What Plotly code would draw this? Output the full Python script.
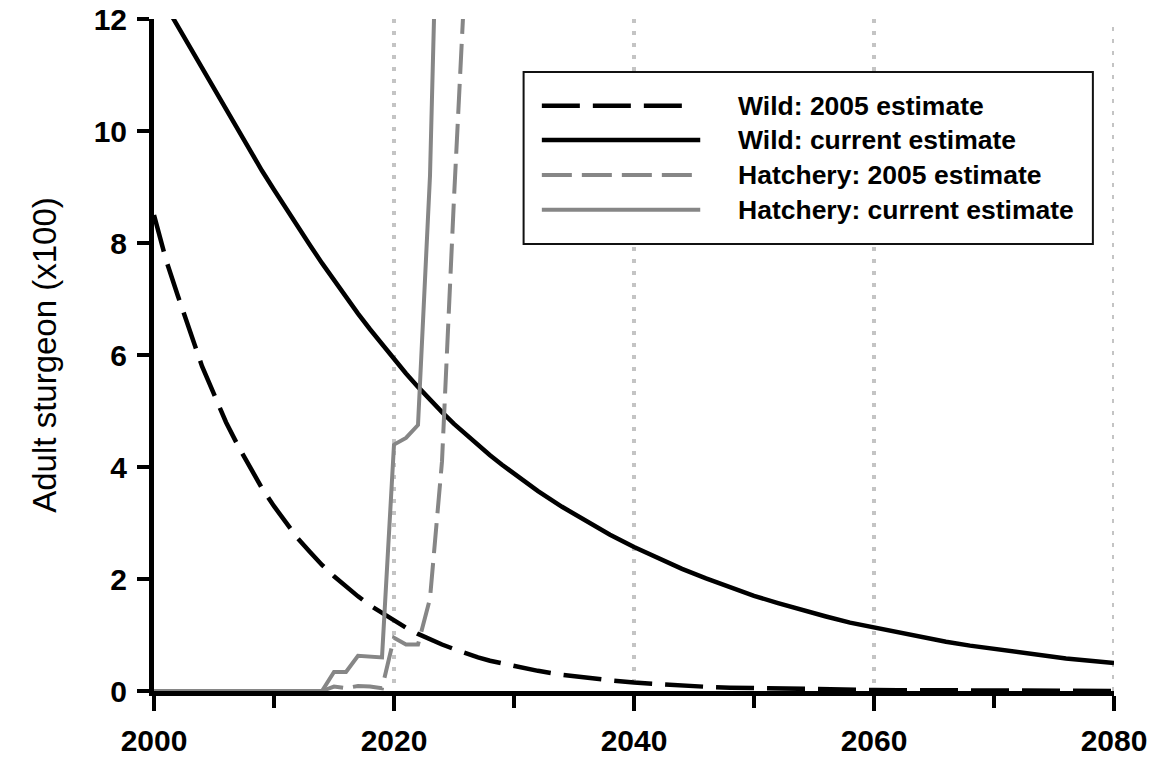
import plotly.graph_objects as go

# ---------------- data ----------------
wild_years = [2000, 2001, 2002, 2003, 2004, 2005, 2006, 2007, 2008, 2009,
              2010, 2011, 2012, 2013, 2014, 2015, 2016, 2017, 2018, 2019,
              2020, 2021, 2022, 2023, 2024, 2025, 2026, 2027, 2028, 2029,
              2030, 2032, 2034, 2036, 2038, 2040, 2042, 2044, 2046, 2048,
              2050, 2052, 2054, 2056, 2058, 2060, 2062, 2064, 2066, 2068,
              2070, 2072, 2074, 2076, 2078, 2080]

wild_2005 = [8.5, 7.7, 7.05, 6.4, 5.8, 5.3, 4.8, 4.38, 4.0, 3.62,
             3.3, 3.0, 2.72, 2.48, 2.25, 2.05, 1.86, 1.69, 1.53, 1.39,
             1.26, 1.13, 1.02, 0.92, 0.83, 0.75, 0.67, 0.6, 0.54, 0.49,
             0.44, 0.36, 0.29, 0.23, 0.19, 0.15, 0.12, 0.09, 0.075, 0.06,
             0.05, 0.04, 0.033, 0.027, 0.022, 0.018, 0.015, 0.012, 0.01, 0.008,
             0.006, 0.005, 0.004, 0.003, 0.003, 0.002]

wild_current = [12.6, 12.23, 11.85, 11.48, 11.1, 10.73, 10.36, 10.0, 9.64, 9.29,
                8.95, 8.61, 8.28, 7.96, 7.64, 7.33, 7.03, 6.74, 6.46, 6.19,
                5.93, 5.67, 5.43, 5.2, 4.98, 4.77, 4.58, 4.39, 4.21, 4.04,
                3.88, 3.57, 3.29, 3.03, 2.79, 2.57, 2.37, 2.18, 2.01, 1.85,
                1.7, 1.57, 1.44, 1.33, 1.22, 1.13, 1.04, 0.96, 0.88, 0.81,
                0.75, 0.69, 0.63, 0.58, 0.54, 0.5]

hatch_years = [2000, 2001, 2002, 2003, 2004, 2005, 2006, 2007, 2008, 2009,
               2010, 2011, 2012, 2013, 2014, 2015, 2016, 2017, 2018, 2019,
               2020, 2021, 2022, 2023, 2024, 2025, 2026]

hatch_2005 = [0, 0, 0, 0, 0, 0, 0, 0, 0, 0,
              0, 0, 0, 0, 0, 0.08, 0.05, 0.09, 0.08, 0.05,
              0.95, 0.83, 0.83, 1.65, 4.1, 8.8, 13.1]

hatch_current = [0, 0, 0, 0, 0, 0, 0, 0, 0, 0,
                 0, 0, 0, 0, 0, 0.34, 0.34, 0.63, 0.62, 0.6,
                 4.4, 4.52, 4.75, 9.2, 17.6, None, None]

series_names = ["Wild: 2005 estimate", "Wild: current estimate",
                "Hatchery: 2005 estimate", "Hatchery: current estimate"]

x_tick_vals = [2000, 2020, 2040, 2060, 2080]
y_tick_vals = [0, 2, 4, 6, 8, 10, 12]

# ---------------- styles ----------------
BLACK = "#000000"
GRAY = "#868686"
styles = [
    dict(color=BLACK, width=4.5, dash="38px,13px"),
    dict(color=BLACK, width=4.5, dash="solid"),
    dict(color=GRAY, width=4, dash="30px,10px"),
    dict(color=GRAY, width=4, dash="solid"),
]
FONT = "Liberation Sans, Arial, sans-serif"
GRID = dict(color="#c4c4c4", width=4, dash="4px,8px")

fig = go.Figure()
xs = [wild_years, wild_years, hatch_years, hatch_years]
ys = [wild_2005, wild_current, hatch_2005, hatch_current]
for name, x, y, st in zip(series_names, xs, ys, styles):
    fig.add_trace(go.Scatter(x=x, y=y, mode="lines", name=name,
                             line=st, showlegend=False, connectgaps=False))

# gridline at the right edge (plotly drops the one at the range end)
fig.add_shape(type="line", xref="x", yref="paper", x0=2080, x1=2080,
              y0=0, y1=1, line=GRID, layer="below")

# ---------------- custom legend (box, sample lines, labels) ----------------
lg_x0, lg_x1, lg_y0, lg_y1 = 0.385, 0.978, 0.665, 0.921
fig.add_shape(type="rect", xref="paper", yref="paper",
              x0=lg_x0, x1=lg_x1, y0=lg_y0, y1=lg_y1,
              line=dict(color="#111111", width=2), fillcolor="white", layer="above")
row_y = [0.871, 0.820, 0.768, 0.716]
sample_end = [0.550, 0.569, 0.5604, 0.569]
for name, st, ry, xe in zip(series_names, styles, row_y, sample_end):
    fig.add_shape(type="line", xref="paper", yref="paper",
                  x0=0.404, x1=xe, y0=ry, y1=ry, line=st, layer="above")
    fig.add_annotation(xref="paper", yref="paper", x=0.606, y=ry,
                       text="<b>" + name + "</b>", showarrow=False,
                       xanchor="left", yanchor="middle",
                       font=dict(family=FONT, size=26.5, color="black"))

fig.update_layout(
    width=1151, height=759,
    margin=dict(l=154, r=37, t=19, b=68, pad=0),
    paper_bgcolor="white", plot_bgcolor="white",
    font=dict(family=FONT, color="black"),
    showlegend=False,
)
fig.update_xaxes(
    range=[2000, 2080], tickvals=x_tick_vals,
    ticktext=["<b>%d</b>" % v for v in x_tick_vals],
    tickfont=dict(family=FONT, size=30, color="black"),
    ticks="outside", ticklen=15, tickwidth=4, tickcolor="black",
    ticklabelstandoff=4, ticklabeloverflow="allow",
    showline=True, linewidth=5, linecolor="black",
    showgrid=True, gridcolor=GRID["color"], gridwidth=GRID["width"],
    griddash=GRID["dash"],
    minor=dict(dtick=10, tick0=2000, ticks="outside", ticklen=12,
               tickwidth=4, tickcolor="black", showgrid=False),
    zeroline=False, layer="below traces", automargin=False,
)
fig.update_yaxes(
    range=[0, 12], tickvals=y_tick_vals,
    ticktext=["<b>%d</b>" % v for v in y_tick_vals],
    tickfont=dict(family=FONT, size=30, color="black"),
    ticks="outside", ticklen=12, tickwidth=4, tickcolor="black",
    ticklabelstandoff=4, ticklabeloverflow="allow",
    showline=True, linewidth=5, linecolor="black",
    showgrid=False, zeroline=False, layer="below traces", automargin=False,
    title=dict(text="Adult sturgeon (x100)", standoff=29,
               font=dict(family=FONT, size=33, color="black")),
)

# remove the browser's default 8px body margin so the figure fills the window
fig.write_html("out.html",
               config={"displayModeBar": False},
               post_script="document.body.style.margin='0';"
                           "document.body.style.overflow='hidden';")
